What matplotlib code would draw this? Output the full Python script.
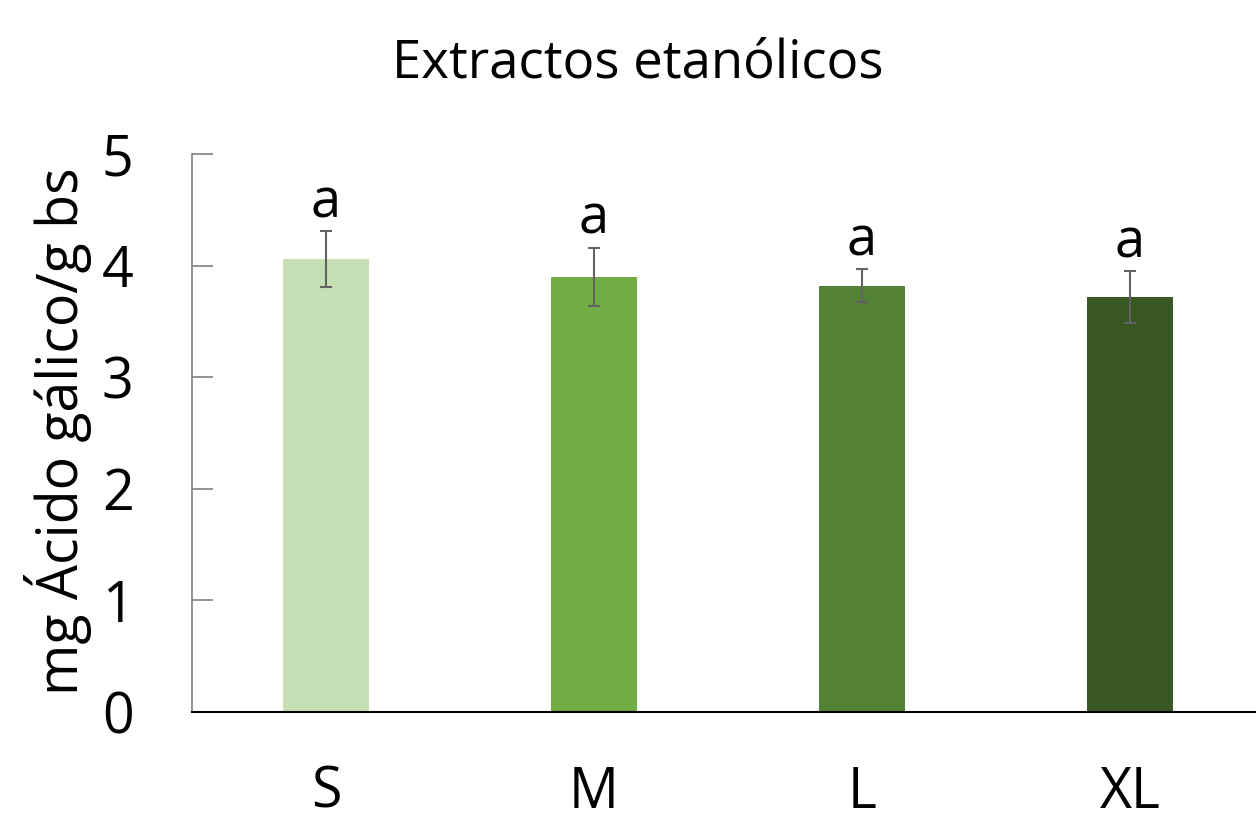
import matplotlib
matplotlib.use('Agg')
import matplotlib.pyplot as plt

plt.rcParams['font.family'] = ['Open Sans', 'DejaVu Sans']

# mean phenolic content per fruit size, with standard deviation
sizes = ['S', 'M', 'L', 'XL']
means = [4.06, 3.90, 3.82, 3.72]
errors = [0.25, 0.26, 0.15, 0.23]
groups = ['a', 'a', 'a', 'a']
colors = ['#c5e0b4', '#70ad47', '#548235', '#385723']

fig = plt.figure(figsize=(12.56, 8.18), dpi=100)
ax = fig.add_axes([192 / 1256, (818 - 712) / 818, 1064 / 1256, 558 / 818])

x = list(range(len(sizes)))
ax.bar(x, means, width=0.32, color=colors, zorder=2)
ax.errorbar(x, means, yerr=errors, fmt='none', ecolor='#636363',
            elinewidth=1.5, capsize=4.5, capthick=1.5, zorder=3)

# significance letters above the error bars
for xi, m, e, g in zip(x, means, errors, groups):
    ax.annotate(g, (xi, m + e), xytext=(0, 10), textcoords='offset points',
                ha='center', va='baseline', fontsize=39)

ax.set_xlim(-0.5, -0.5 + 1064 / 268)
ax.set_ylim(0, 5)
ax.set_xticks(x)
ax.set_xticklabels(sizes)
ax.set_yticks([0, 1, 2, 3, 4, 5])

for side in ['top', 'right']:
    ax.spines[side].set_visible(False)
ax.spines['left'].set_color('#808080')
ax.spines['left'].set_linewidth(1.2)
ax.spines['bottom'].set_color('black')
ax.spines['bottom'].set_linewidth(1.5)

ax.tick_params(axis='y', direction='in', length=15, width=1.2, color='#808080',
               labelsize=40, pad=42)
ax.tick_params(axis='x', length=0, labelsize=40, pad=38)

fig.text(638 / 1256, 1 - 77 / 818, 'Extractos etanólicos', ha='center', va='baseline',
         fontsize=38)
fig.text(58 / 1256, 1 - 431 / 818, 'mg Ácido gálico/g bs', ha='center', va='center',
         rotation=90, fontsize=40)

fig.savefig('out.png', dpi=100)
